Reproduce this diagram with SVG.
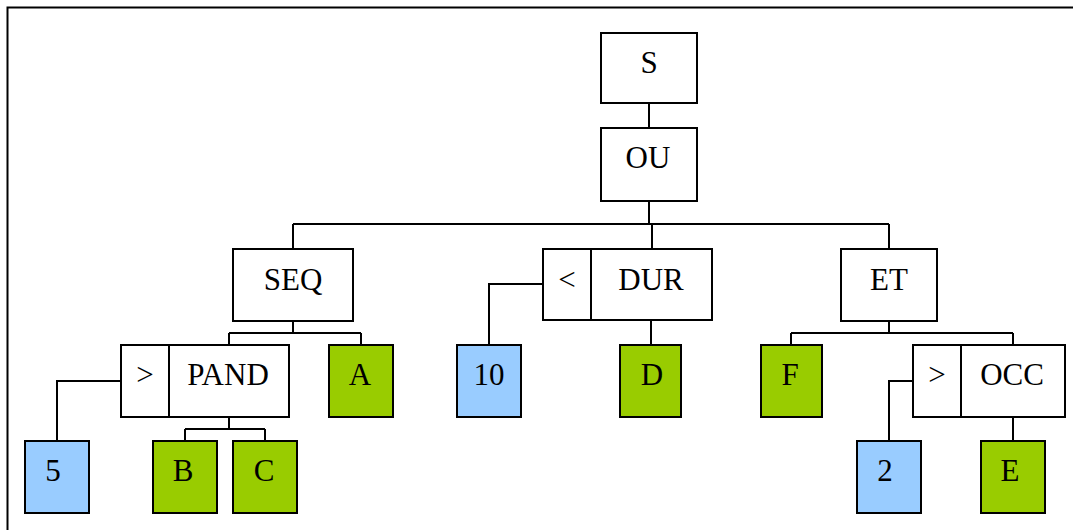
<svg xmlns="http://www.w3.org/2000/svg" width="1073" height="530" viewBox="0 0 1073 530">
<style>
.box{fill:#ffffff;stroke:#000;stroke-width:2}
.blue{fill:#99CCFF;stroke:#000;stroke-width:2}
.green{fill:#99CC00;stroke:#000;stroke-width:2}
.div{stroke:#000;stroke-width:2}
.lbl{font-family:"Liberation Serif","Times New Roman",serif;font-size:31px;fill:#000;text-anchor:middle}
#connectors path{fill:none;stroke:#000;stroke-width:2}
</style>
<rect x="7.5" y="7.5" width="1080" height="540" fill="#ffffff" stroke="#000" stroke-width="2"/>
<g id="connectors">
<path d="M649 103V128"/>
<path d="M649 201V224"/>
<path d="M293 224H889"/>
<path d="M293 224V249"/>
<path d="M652 224V249"/>
<path d="M889 224V249"/>
<path d="M293 321V333M229 333H361M229 333V345M361 333V345"/>
<path d="M121 381H57V441"/>
<path d="M229 417V429M185 429H265M185 429V441M265 429V441"/>
<path d="M543 284H489V345"/>
<path d="M651 320V345"/>
<path d="M889 321V333M791 333H1013M791 333V345M1013 333V345"/>
<path d="M913 381H889V441"/>
<path d="M1013 417V441"/>
</g>
<g id="node-S"><rect class="box" x="601" y="33" width="96" height="70"/><text class="lbl" x="649" y="73">S</text></g>
<g id="node-OU"><rect class="box" x="601" y="128" width="96" height="73"/><text class="lbl" x="648" y="168">OU</text></g>
<g id="node-SEQ"><rect class="box" x="233" y="249" width="120" height="72"/><text class="lbl" x="293" y="290">SEQ</text></g>
<g id="node-DUR"><rect class="box" x="543" y="249" width="169" height="71"/><line class="div" x1="591" y1="249" x2="591" y2="320"/><text class="lbl" x="567" y="290">&lt;</text><text class="lbl" x="651" y="290">DUR</text></g>
<g id="node-ET"><rect class="box" x="841" y="249" width="96" height="72"/><text class="lbl" x="889" y="290">ET</text></g>
<g id="node-PAND"><rect class="box" x="121" y="345" width="168" height="72"/><line class="div" x1="169" y1="345" x2="169" y2="417"/><text class="lbl" x="145" y="385">&gt;</text><text class="lbl" x="228" y="385">PAND</text></g>
<g id="node-A"><rect class="green" x="329" y="345" width="64" height="72"/><text class="lbl" x="360" y="385">A</text></g>
<g id="node-10"><rect class="blue" x="457" y="345" width="64" height="72"/><text class="lbl" x="489" y="385">10</text></g>
<g id="node-D"><rect class="green" x="620" y="345" width="61" height="72"/><text class="lbl" x="652" y="385">D</text></g>
<g id="node-F"><rect class="green" x="761" y="345" width="61" height="72"/><text class="lbl" x="790" y="385">F</text></g>
<g id="node-OCC"><rect class="box" x="913" y="345" width="152" height="72"/><line class="div" x1="961" y1="345" x2="961" y2="417"/><text class="lbl" x="937" y="385">&gt;</text><text class="lbl" x="1012" y="385">OCC</text></g>
<g id="node-5"><rect class="blue" x="25" y="441" width="64" height="72"/><text class="lbl" x="53" y="481">5</text></g>
<g id="node-B"><rect class="green" x="153" y="441" width="64" height="72"/><text class="lbl" x="183" y="481">B</text></g>
<g id="node-C"><rect class="green" x="233" y="441" width="64" height="72"/><text class="lbl" x="264" y="481">C</text></g>
<g id="node-2"><rect class="blue" x="857" y="441" width="64" height="72"/><text class="lbl" x="885" y="481">2</text></g>
<g id="node-E"><rect class="green" x="981" y="441" width="64" height="72"/><text class="lbl" x="1010" y="481">E</text></g>
</svg>
